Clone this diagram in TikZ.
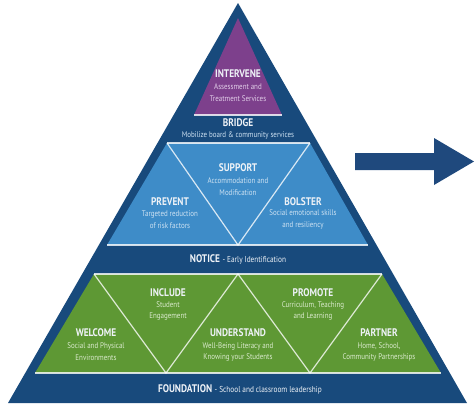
\documentclass[tikz,border=0pt]{standalone}
\usepackage{fontspec}
\setmainfont{PT Sans}[FakeStretch=0.85]
\definecolor{navy}{RGB}{24,74,124}
\definecolor{midblue}{RGB}{62,140,200}
\definecolor{purp}{RGB}{125,64,140}
\definecolor{grn}{RGB}{94,152,52}
\definecolor{arrowc}{RGB}{31,73,125}
\definecolor{ttlc}{RGB}{238,242,247}
\definecolor{subblue}{RGB}{205,225,242}
\definecolor{subgreen}{RGB}{218,234,205}
\definecolor{subpurp}{RGB}{225,205,232}
\begin{document}
\begin{tikzpicture}[x=1pt,y=-1pt,
  ttl/.style={font=\fontsize{11}{11}\selectfont\bfseries, text=ttlc, inner sep=0},
  sub/.style={font=\fontsize{8.2}{11.8}\selectfont, align=center, inner sep=0},
  sepline/.style={draw=white, draw opacity=0.8, line width=1.2pt},
  band/.style={font=\fontsize{11}{11}\selectfont, text=ttlc, inner sep=0}]
\useasboundingbox (0,0) rectangle (475,407);
% outer pyramid
\fill[navy] (238,3) -- (467,403) -- (8,403) -- cycle;
% top purple triangle
\fill[purp] (238,18) -- (282,115) -- (194,115) -- cycle;
\draw[sepline] (194,115) -- (282,115);
% middle region
\fill[midblue] (167,143) -- (310,143) -- (368,245) -- (107,245) -- cycle;
\draw[sepline] (167,143) -- (310,143);
\draw[sepline] (107,245) -- (368,245);
\draw[sepline] (167,143) -- (238,245) -- (310,143);
% bottom region
\fill[grn] (94,274) -- (382,274) -- (441,373) -- (35,373) -- cycle;
\draw[sepline] (94,274) -- (382,274);
\draw[sepline] (35,373) -- (441,373);
\draw[sepline] (94,274) -- (166,373) -- (238,274) -- (310,373) -- (382,274);
% arrow
\fill[arrowc] (355,153) -- (434,153) -- (434,138) -- (474,161.5) -- (434,185) -- (434,170) -- (355,170) -- cycle;
% texts
\node[ttl] (intervene) at (238,74) {INTERVENE};
\node[sub, text=subpurp] (interveneS) at (238,93) {Assessment and\\Treatment Services};
\node[ttl] (bridge) at (238,123) {BRIDGE};
\node[sub, text=subblue] (bridgeS) at (238,135) {Mobilize board \& community services};
\node[ttl] (support) at (238,168) {SUPPORT};
\node[sub, text=subblue] (supportS) at (238,187) {Accommodation and\\Modification};
\node[ttl] (prevent) at (170,202) {PREVENT};
\node[sub, text=subblue] (preventS) at (170,219.5) {Targeted reduction\\of risk factors};
\node[ttl] (bolster) at (303,202) {BOLSTER};
\node[sub, text=subblue] (bolsterS) at (303,219.5) {Social emotional skills\\and resiliency};
\node[band] (notice) at (238,259) {\bfseries NOTICE\mdseries\ {\fontsize{8.6}{9}\selectfont - Early Identification}};
\node[ttl] (include) at (168,293) {INCLUDE};
\node[sub, text=subgreen] (includeS) at (168,311) {Student\\Engagement};
\node[ttl] (promote) at (313,293) {PROMOTE};
\node[sub, text=subgreen] (promoteS) at (313,311) {Curriculum, Teaching\\and Learning};
\node[ttl] (welcome) at (96,333) {WELCOME};
\node[sub, text=subgreen] (welcomeS) at (96,352) {Social and Physical\\Environments};
\node[ttl] (understand) at (238,333) {UNDERSTAND};
\node[sub, text=subgreen] (understandS) at (238,352) {Well-Being Literacy and\\Knowing your Students};
\node[ttl] (partner) at (379,333) {PARTNER};
\node[sub, text=subgreen] (partnerS) at (379,352) {Home, School,\\Community Partnerships};
\node[band] (foundation) at (240,389) {\bfseries FOUNDATION\mdseries\ {\fontsize{8.6}{9}\selectfont - School and classroom leadership}};
\end{tikzpicture}
\end{document}
